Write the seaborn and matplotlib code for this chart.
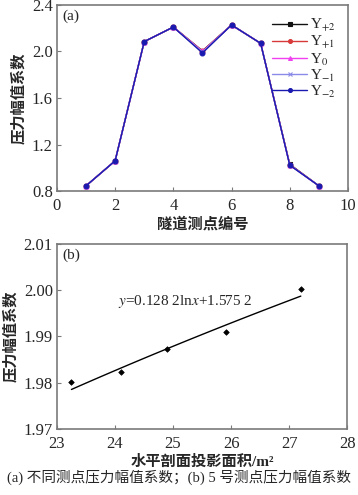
import matplotlib
matplotlib.use("Agg")
import matplotlib.pyplot as plt
import numpy as np
import pandas as pd
import seaborn as sns

sns.set_theme(style="ticks")
plt.rcParams['font.family'] = ['Liberation Serif', 'Noto Sans CJK SC']
plt.rcParams['mathtext.fontset'] = 'stix'

# (a) pressure amplitude coefficient at each measuring point
points = [1, 2, 3, 4, 5, 6, 7, 8, 9]
y_p2 = [0.845, 1.060, 2.085, 2.210, 2.005, 2.228, 2.070, 1.030, 0.845]
y_p1 = [0.845, 1.060, 2.085, 2.210, 2.003, 2.228, 2.070, 1.026, 0.845]
y_0 = [0.845, 1.060, 2.085, 2.210, 2.000, 2.228, 2.070, 1.024, 0.845]
y_m1 = [0.845, 1.060, 2.085, 2.210, 1.995, 2.228, 2.070, 1.023, 0.845]
y_m2 = [0.845, 1.060, 2.085, 2.210, 1.987, 2.228, 2.070, 1.022, 0.845]
series_names = ["Y$_{+2}$", "Y$_{+1}$", "Y$_{0}$", "Y$_{-1}$", "Y$_{-2}$"]

# (b) point 5 vs horizontal projected area
area = [23.25, 24.11, 24.89, 25.92, 27.20]
coef5 = [1.9801, 1.9823, 1.9872, 1.9909, 2.0002]
fit_a, fit_b = 0.1282, 1.5752

colors = ["#111111", "#d83a3a", "#f040f0", "#8a8ae8", "#1a1ab0"]
markers = ["s", "o", "^", "x", "o"]

fig = plt.figure(figsize=(3.58, 4.95), dpi=100)
ax1 = fig.add_axes([0.159, 0.614, 0.813, 0.376])
ax2 = fig.add_axes([0.159, 0.133, 0.811, 0.375])

for name, vals, c, m in zip(series_names, [y_p2, y_p1, y_0, y_m1, y_m2], colors, markers):
    sns.lineplot(x=points, y=vals, color=c, marker=m, markersize=3.5,
                 markeredgecolor=c, markeredgewidth=0.8, linewidth=1.0,
                 label=name, ax=ax1)
ax1.set_xlim(0, 10)
ax1.set_ylim(0.8, 2.4)
ax1.set_xticks([0, 2, 4, 6, 8, 10])
ax1.set_yticks([0.8, 1.2, 1.6, 2.0, 2.4])
ax1.set_yticklabels(["0.8", "1.2", "1.6", "2.0", "2.4"])
ax1.set_xlabel("隧道测点编号", fontsize=11, fontweight="bold", labelpad=2)
ax1.set_ylabel("压力幅值系数", fontsize=11, fontweight="bold", labelpad=4)
ax1.text(0.02, 0.975, "(a)", transform=ax1.transAxes, fontsize=11, va="top")
ax1.legend(loc="upper right", frameon=False, fontsize=11,
           handlelength=2.3, handletextpad=0.2, labelspacing=0.0,
           borderaxespad=0.4, markerscale=0.8)

sns.scatterplot(x=area, y=coef5, color="black", marker="D", s=8, ax=ax2,
                edgecolor="black", linewidth=0.5)
fit_x = np.linspace(area[0], area[-1], 50)
sns.lineplot(x=fit_x, y=fit_a * np.log(fit_x) + fit_b, color="black",
             linewidth=1.0, ax=ax2)
ax2.set_xlim(23, 28)
ax2.set_ylim(1.97, 2.01)
ax2.set_xticks([23, 24, 25, 26, 27, 28])
ax2.set_yticks([1.97, 1.98, 1.99, 2.00, 2.01])
ax2.set_yticklabels(["1.97", "1.98", "1.99", "2.00", "2.01"])
ax2.set_xlabel("水平剖面投影面积/m²", fontsize=11, fontweight="bold", labelpad=2)
ax2.set_ylabel("压力幅值系数", fontsize=11, fontweight="bold", labelpad=4)
ax2.text(0.02, 0.975, "(b)", transform=ax2.transAxes, fontsize=11, va="top")
ax2.text(24.05, 1.9975, "$y$=0.128 2ln$x$+1.575 2", fontsize=11, va="center")

for ax in (ax1, ax2):
    for sp in ax.spines.values():
        sp.set_color("#7a7a7a")
        sp.set_linewidth(1.2)
    ax.tick_params(direction="in", length=3, width=0.8, color="#7a7a7a",
                   labelsize=12)
    ax.tick_params(axis="x", pad=5)
    ax.tick_params(axis="y", pad=3)

fig.text(0.5, 0.035, "(a) 不同测点压力幅值系数；(b) 5 号测点压力幅值系数",
         ha="center", va="center", fontsize=10.5)

fig.savefig("out.png", dpi=100)
